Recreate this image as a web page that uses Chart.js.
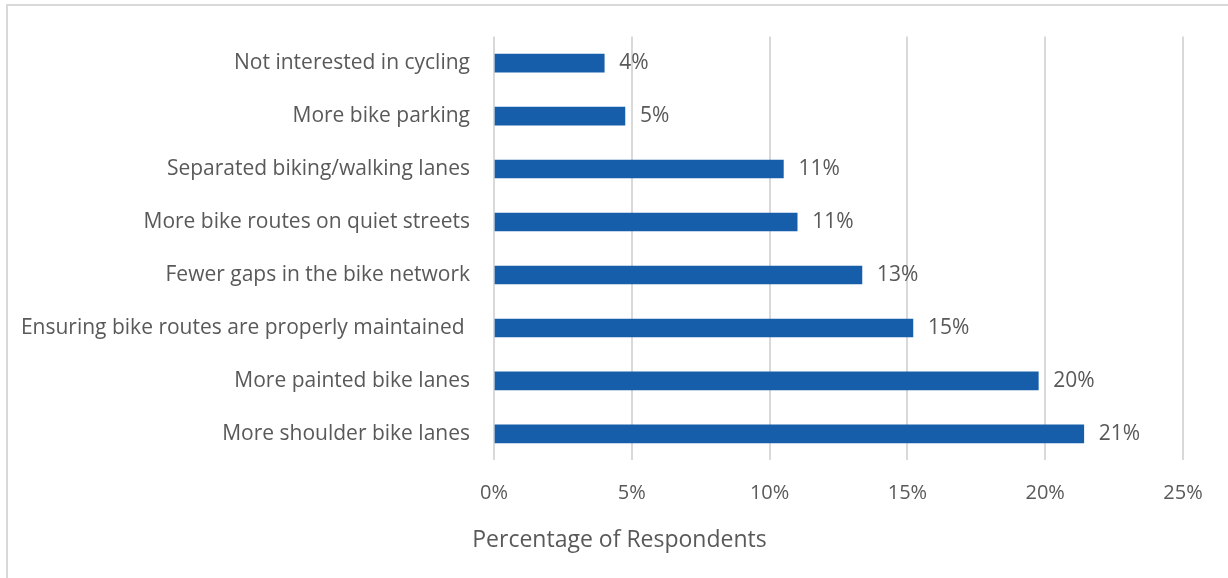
<!DOCTYPE html>
<html>
<head>
<meta charset="utf-8">
<script src="https://cdn.jsdelivr.net/npm/chart.js@4"></script>
<style>
  html, body { margin: 0; padding: 0; background: #fff; }
  #wrap { position: relative; width: 1228px; height: 578px; overflow: hidden; }
  #frame { position: absolute; left: 6px; top: 4px; width: 1240px; height: 600px;
           border-left: 2px solid #d9d9d9; border-top: 2px solid #d9d9d9; }
  canvas { position: absolute; left: 0; top: 0; }
</style>
</head>
<body>
<div id="wrap">
  <div id="frame"></div>
  <canvas id="chart" width="1228" height="578"></canvas>
</div>
<script>
  // survey answers, top to bottom as shown
  var categories = [
    "Not interested in cycling",
    "More bike parking",
    "Separated biking/walking lanes",
    "More bike routes on quiet streets",
    "Fewer gaps in the bike network",
    "Ensuring bike routes are properly maintained ",
    "More painted bike lanes",
    "More shoulder bike lanes"
  ];
  var percentages = [4.0, 4.75, 10.5, 11.0, 13.35, 15.2, 19.75, 21.4];
  var tickValues = [0, 5, 10, 15, 20, 25];
  var axisTitle = "Percentage of Respondents";

  var textColor = "#595959";
  var fontFamily = "'Open Sans', sans-serif";

  var valueLabels = {
    id: "valueLabels",
    afterDatasetsDraw: function (chart) {
      var ctx = chart.ctx;
      var meta = chart.getDatasetMeta(0);
      ctx.save();
      ctx.fillStyle = textColor;
      ctx.font = "21px " + fontFamily;
      ctx.textAlign = "left";
      ctx.textBaseline = "middle";
      meta.data.forEach(function (bar, i) {
        ctx.fillText(Math.round(percentages[i]) + "%", bar.x + 15, bar.y);
      });
      ctx.restore();
    }
  };

  new Chart(document.getElementById("chart"), {
    type: "bar",
    data: {
      labels: categories,
      datasets: [{
        data: percentages,
        backgroundColor: "#165eaa",
        barThickness: 18
      }]
    },
    plugins: [valueLabels],
    options: {
      indexAxis: "y",
      responsive: false,
      animation: false,
      layout: { padding: { top: 33, right: 0, bottom: 0, left: 11 } },
      plugins: {
        legend: { display: false },
        tooltip: { enabled: false },
        title: {
          display: true,
          position: "bottom",
          text: axisTitle,
          color: textColor,
          font: { family: fontFamily, size: 23, weight: "normal" },
          padding: { top: 0, bottom: 24 }
        }
      },
      scales: {
        x: {
          min: 0,
          max: 25,
          afterBuildTicks: function (scale) {
            scale.ticks = tickValues.map(function (v) { return { value: v }; });
          },
          afterFit: function (scale) { scale.height = 66; },
          grid: { color: "#d9d9d9", lineWidth: 2, drawTicks: false },
          border: { display: false },
          ticks: {
            color: textColor,
            font: { family: fontFamily, size: 20 },
            padding: 21,
            callback: function (v) { return v + "%"; }
          }
        },
        y: {
          afterFit: function (scale) { scale.width = 483; },
          grid: { display: false, drawTicks: false },
          border: { display: false },
          ticks: {
            color: textColor,
            font: { family: fontFamily, size: 21 },
            padding: 24
          }
        },
        // empty right-hand margin so the plot ends at 25%
        spacer: {
          type: "linear",
          position: "right",
          afterFit: function (scale) { scale.width = 45; },
          grid: { display: false, drawTicks: false },
          border: { display: false },
          ticks: { display: false }
        }
      }
    }
  });
</script>
</body>
</html>
